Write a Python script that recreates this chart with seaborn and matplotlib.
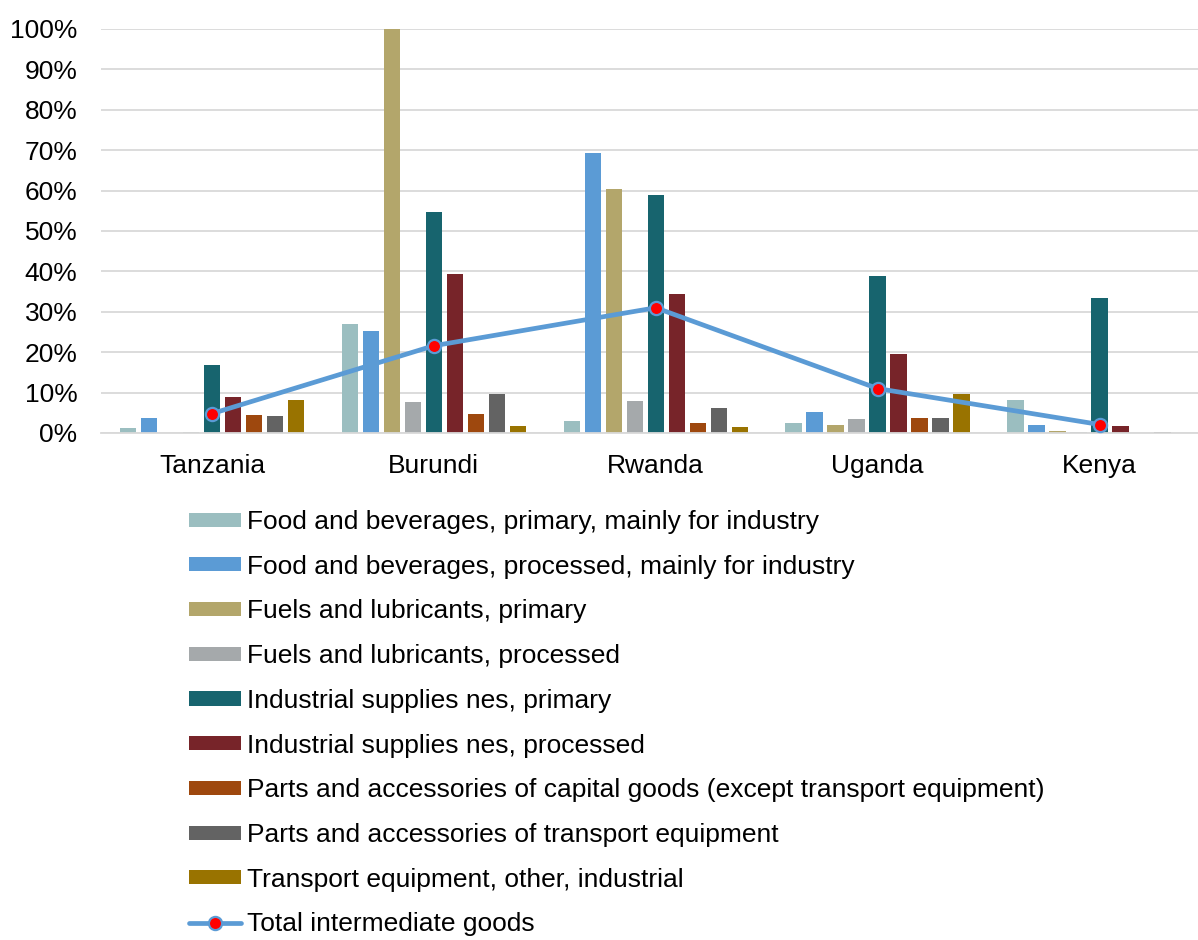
import numpy as np
import pandas as pd
import seaborn as sns
import matplotlib.pyplot as plt
from matplotlib.patches import Patch
from matplotlib.lines import Line2D
from matplotlib.ticker import FuncFormatter

countries = ["Tanzania", "Burundi", "Rwanda", "Uganda", "Kenya"]

series_names = [
    "Food and beverages, primary, mainly for industry",
    "Food and beverages, processed, mainly for industry",
    "Fuels and lubricants, primary",
    "Fuels and lubricants, processed",
    "Industrial supplies nes, primary",
    "Industrial supplies nes, processed",
    "Parts and accessories of capital goods (except transport equipment)",
    "Parts and accessories of transport equipment",
    "Transport equipment, other, industrial",
]
line_name = "Total intermediate goods"

food_primary = [1.2, 27.1, 3.0, 2.5, 8.1]
food_processed = [3.7, 25.2, 69.4, 5.3, 2.1]
fuels_primary = [0.0, 100.0, 60.5, 2.0, 0.5]
fuels_processed = [0.2, 7.6, 7.8, 3.5, 0.3]
industrial_primary = [16.9, 54.6, 58.9, 38.9, 33.5]
industrial_processed = [8.8, 39.4, 34.5, 19.6, 1.8]
parts_capital = [4.4, 4.8, 2.5, 3.8, 0.1]
parts_transport = [4.2, 9.6, 6.1, 3.6, 0.3]
transport_other = [8.2, 1.7, 1.4, 9.7, 0.0]
total_intermediate = [4.8, 21.6, 31.0, 11.0, 2.1]

colors = ["#9BBEC0", "#5B9BD5", "#B3A66B", "#A5A9AB", "#17646E",
          "#772429", "#9E480E", "#636363", "#997300"]

all_series = [food_primary, food_processed, fuels_primary, fuels_processed,
              industrial_primary, industrial_processed, parts_capital,
              parts_transport, transport_other]

rows = []
for name, vals in zip(series_names, all_series):
    for c, v in zip(countries, vals):
        rows.append({"country": c, "series": name, "value": v})
df = pd.DataFrame(rows)

sns.set_theme(style="white")
plt.rcParams['font.family'] = ['Liberation Sans', 'DejaVu Sans']
plt.rcParams['text.color'] = '#000000'
FS = 19

fig = plt.figure(figsize=(11.98, 9.40), dpi=100)
ax = fig.add_axes([101/1198, 1 - 433/940, 1109.5/1198, (433 - 29)/940])

sns.barplot(data=df, x="country", y="value", hue="series",
            hue_order=series_names, order=countries, palette=colors,
            saturation=1, width=0.852, gap=0.22, linewidth=0, ax=ax,
            legend=False, errorbar=None, zorder=2)

sns.pointplot(x=countries, y=total_intermediate, order=countries,
              color="#5B9BD5", markers="o", linestyles="-", ax=ax,
              errorbar=None)
for ln in ax.lines:
    ln.set_linewidth(3.4)
    ln.set_markersize(9.5)
    ln.set_markerfacecolor("#FF0000")
    ln.set_markeredgecolor("#5B9BD5")
    ln.set_markeredgewidth(1.6)
    ln.set_zorder(5)

ax.set_ylim(0, 100)
ax.set_xlim(-0.5, 4.5)
ax.set_yticks(np.arange(0, 101, 10))
ax.yaxis.set_major_formatter(FuncFormatter(lambda v, p: f"{int(v)}%"))
ax.grid(axis="y", color="#D9D9D9", linewidth=1.3, zorder=0)
ax.set_axisbelow(True)
for s in ["top", "right", "left"]:
    ax.spines[s].set_visible(False)
ax.spines["bottom"].set_color("#D9D9D9")
ax.spines["bottom"].set_linewidth(1.3)
ax.tick_params(axis="y", length=0, pad=17, labelsize=FS, labelcolor="#000000")
ax.tick_params(axis="x", length=0, pad=15, labelsize=FS, labelcolor="#000000")
ax.set_xlabel("")
ax.set_ylabel("")

handles = [Patch(facecolor=c, edgecolor="none") for c in colors]
handles.append(Line2D([0], [0], color="#5B9BD5", linewidth=3.4, marker="o",
                      markersize=9.5, markerfacecolor="#FF0000",
                      markeredgecolor="#5B9BD5", markeredgewidth=1.6))
labels = series_names + [line_name]
leg = fig.legend(handles, labels, loc="upper left",
                 bbox_to_anchor=(189/1198, 1 - 510/940), frameon=False,
                 fontsize=FS, handlelength=1.98, handleheight=0.45,
                 handletextpad=0.2, labelspacing=0.785, borderpad=0,
                 borderaxespad=0)
for t in leg.get_texts():
    t.set_color("#000000")

fig.savefig("out.png", dpi=100)
